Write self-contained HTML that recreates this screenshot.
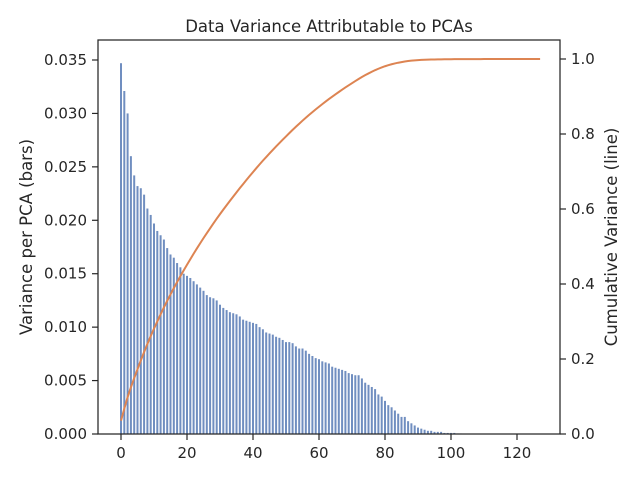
<!DOCTYPE html>
<html><head><meta charset="utf-8"><style>
body{margin:0;background:#fff;}
text{font-family:"DejaVu Sans","Liberation Sans",sans-serif;fill:#262626;}
</style></head><body>
<svg id="chart" width="640" height="480" xmlns="http://www.w3.org/2000/svg">
<rect width="640" height="480" fill="#fff"/>
<g id="bars"></g>
<g id="line"></g>
<rect x="98" y="40" width="462" height="394" fill="none" stroke="#262626" stroke-width="1.25"/>
<g id="axes"></g>
<text x="329" y="32" text-anchor="middle" font-size="16.5">Data Variance Attributable to PCAs</text>
<text transform="translate(32,237) rotate(-90)" text-anchor="middle" font-size="16.5">Variance per PCA (bars)</text>
<text transform="translate(617,237) rotate(-90)" text-anchor="middle" font-size="16.5">Cumulative Variance (line)</text>
</svg>
<script>
const variance=[0.0347,0.0321,0.0300,0.0260,0.0242,0.0232,0.0230,0.0224,0.0211,0.0205,0.0197,0.0190,0.0186,0.0182,0.0174,0.0168,0.0165,0.0160,0.0156,0.0150,0.0148,0.0146,0.0143,0.0140,0.0137,0.0134,0.0130,0.0128,0.0127,0.0125,0.0121,0.0118,0.0116,0.0114,0.0113,0.0112,0.0110,0.0107,0.0106,0.0105,0.0104,0.0103,0.0100,0.0098,0.0095,0.0094,0.0093,0.0091,0.0090,0.0088,0.0086,0.0086,0.0085,0.0082,0.0080,0.0080,0.0078,0.0075,0.0073,0.0071,0.0070,0.0068,0.0067,0.0066,0.0063,0.0062,0.0061,0.0060,0.0059,0.0057,0.0056,0.0055,0.0055,0.0052,0.0048,0.0046,0.0044,0.0042,0.0037,0.0035,0.0031,0.0027,0.0025,0.0022,0.0019,0.0016,0.0016,0.0012,0.0010,0.0008,0.0006,0.0005,0.0004,0.0003,0.0003,0.0002,0.0002,0.0002,0.0001,0.0001,0.0001,0.0001,0.00005,0.00005,0.00004,0.00003,0.00003,0.00002,0.00002,0.00002,0.00001,0.00001,0.00001,0.00001,0.00001,0.00001,0.00001,0.00001,0.00001,0.00001,0.00001,0.00001,0.00001,0.00001,0.00001,0.00001,0.00001,0.00001];
const xTicks=[0,20,40,60,80,100,120];
const yLeftTicks=[0,0.005,0.010,0.015,0.020,0.025,0.030,0.035];
const yRightTicks=[0,0.2,0.4,0.6,0.8,1.0];
const NS="http://www.w3.org/2000/svg";
const X=i=>121+i*3.3;
const YL=v=>434-v*(374/0.035);
const YR=v=>434-v*375;
function mk(tag,attrs,parent){const e=document.createElementNS(NS,tag);for(const k in attrs)e.setAttribute(k,attrs[k]);parent.appendChild(e);return e;}
const bars=document.getElementById('bars');
variance.forEach((v,i)=>{const r=mk('rect',{x:X(i)-1,y:YL(v),width:2,height:434-YL(v),fill:'#4c72b0',opacity:0.8},bars);

});
const total=variance.reduce((a,b)=>a+b,0);
let c=0;const pts=variance.map((v,i)=>{c+=v;return X(i).toFixed(2)+','+YR(c/total).toFixed(2);});
const pl=mk('polyline',{points:pts.join(' '),fill:'none',stroke:'#dd8452','stroke-width':2},document.getElementById('line'));


const ax=document.getElementById('axes');
xTicks.forEach(t=>{mk('line',{x1:X(t),x2:X(t),y1:434,y2:440,stroke:'#262626','stroke-width':1.2},ax);
const tx=mk('text',{x:X(t),y:458,'text-anchor':'middle','font-size':15},ax);tx.textContent=t;

});
yLeftTicks.forEach(t=>{mk('line',{x1:92,x2:98,y1:YL(t),y2:YL(t),stroke:'#262626','stroke-width':1.2},ax);
const tx=mk('text',{x:87,y:YL(t)+5,'text-anchor':'end','font-size':15},ax);tx.textContent=t.toFixed(3);

});
yRightTicks.forEach(t=>{mk('line',{x1:560,x2:566,y1:YR(t),y2:YR(t),stroke:'#262626','stroke-width':1.2},ax);
const tx=mk('text',{x:571,y:YR(t)+5,'text-anchor':'start','font-size':15},ax);tx.textContent=t.toFixed(1);

});
</script>
</body></html>
